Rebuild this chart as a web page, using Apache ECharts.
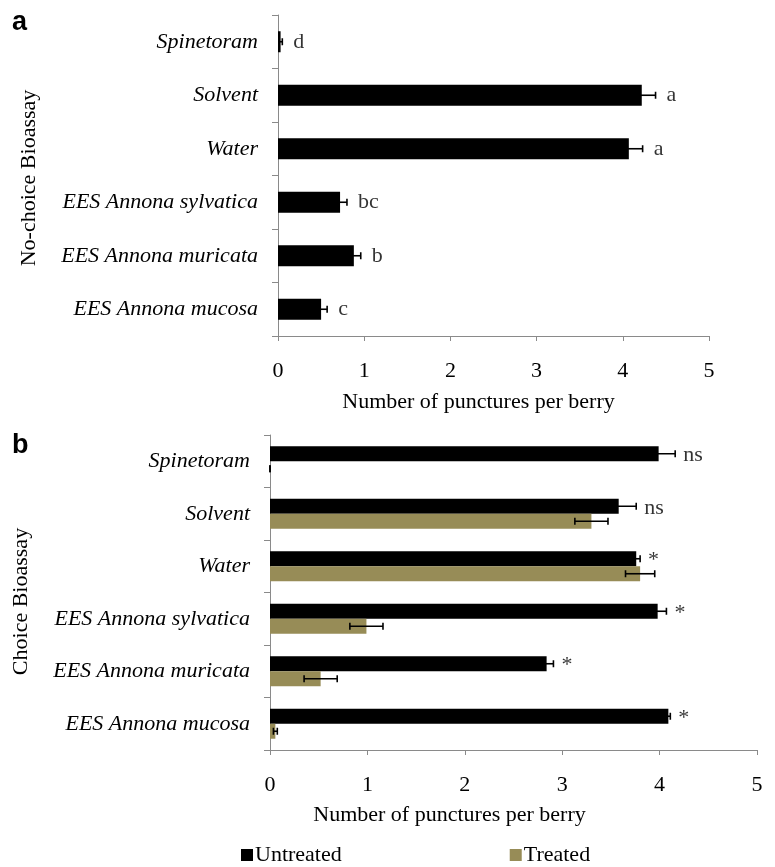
<!DOCTYPE html>
<html>
<head>
<meta charset="utf-8">
<script src="https://cdn.jsdelivr.net/npm/echarts@6/dist/echarts.min.js"></script>
<style>html,body{margin:0;padding:0;background:#fff}#c{width:775px;height:867px}</style>
</head>
<body>
<div id="c"></div>
<script>
// ---- data ----
var categories = ['Spinetoram', 'Solvent', 'Water', 'EES Annona sylvatica', 'EES Annona muricata', 'EES Annona mucosa'];
var xTicks = [0, 1, 2, 3, 4, 5];

// Panel a: No-choice bioassay
var noChoiceMean = [0.03, 4.22, 4.07, 0.72, 0.88, 0.50];
var noChoiceErr  = [0.02, 0.16, 0.16, 0.08, 0.08, 0.07];
var noChoiceLetters = ['d', 'a', 'a', 'bc', 'b', 'c'];

// Panel b: Choice bioassay
var untreatedMean = [3.99, 3.58, 3.76, 3.98, 2.84, 4.09];
var untreatedErr  = [0.17, 0.18, 0.04, 0.09, 0.07, 0.02];
var treatedMean   = [0.00, 3.30, 3.80, 0.99, 0.52, 0.055];
var treatedErr    = [0.00, 0.17, 0.15, 0.17, 0.17, 0.02];
var choiceSig     = ['ns', 'ns', '*', '*', '*', '*'];

var seriesNames = ['Untreated', 'Treated'];
var xTitle = 'Number of punctures per berry';
var yTitleA = 'No-choice Bioassay';
var yTitleB = 'Choice Bioassay';

// ---- chart ----
var SERIF = '"Liberation Serif", "Times New Roman", serif';
var BLACK = '#000000', TAN = '#978c57', AXIS = '#8a8a8a';

function errData(mean, err) {
  return mean.map(function (m, i) { return [m - err[i], m + err[i], i]; });
}
function tipData(mean, err) {
  return mean.map(function (m, i) { return [m + err[i], i]; });
}
function errRender(offset) {
  return function (params, api) {
    var lo = api.coord([api.value(0), api.value(2)]);
    var hi = api.coord([api.value(1), api.value(2)]);
    var y = lo[1] + offset;
    var h = 3.5;
    var st = { stroke: '#000', lineWidth: 1.6 };
    return { type: 'group', children: [
      { type: 'line', shape: { x1: lo[0], y1: y, x2: hi[0], y2: y }, style: st },
      { type: 'line', shape: { x1: lo[0], y1: y - h, x2: lo[0], y2: y + h }, style: st },
      { type: 'line', shape: { x1: hi[0], y1: y - h, x2: hi[0], y2: y + h }, style: st }
    ]};
  };
}
function xAxisCfg(gi, nameGap, padRight) {
  return {
    type: 'value', gridIndex: gi, min: xTicks[0], max: xTicks[xTicks.length - 1], interval: 1,
    splitLine: { show: false },
    axisLine: { show: true, lineStyle: { color: AXIS, width: 1 } },
    axisTick: { show: true, length: 5, lineStyle: { color: AXIS } },
    axisLabel: { color: '#000', fontFamily: SERIF, fontSize: 22, margin: 24 },
    name: xTitle, nameLocation: 'middle', nameGap: nameGap,
    nameTextStyle: { color: '#000', fontFamily: SERIF, fontSize: 22, padding: [0, padRight, 0, 0] }
  };
}
function yAxisCfg(gi, name, padRight) {
  return {
    type: 'category', gridIndex: gi, data: categories, inverse: true,
    axisLine: { show: true, lineStyle: { color: AXIS, width: 1 } },
    axisTick: { show: true, length: 6, lineStyle: { color: AXIS } },
    axisLabel: { color: '#000', fontFamily: SERIF, fontSize: 22, fontStyle: 'italic', margin: 20 },
    name: name, nameLocation: 'middle', nameGap: 238, nameRotate: 90,
    nameTextStyle: { color: '#000', fontFamily: SERIF, fontSize: 22, padding: [0, padRight, 0, 0] }
  };
}
function sigSeries(xi, mean, err, labels, dist, dy) {
  return {
    type: 'scatter', xAxisIndex: xi, yAxisIndex: xi, symbolSize: 0, silent: true,
    data: tipData(mean, err),
    label: { show: true, position: 'right', distance: dist, offset: [0, dy], color: '#000',
      fontFamily: SERIF, fontSize: 22,
      formatter: function (p) { return labels[p.dataIndex]; } },
    z: 5
  };
}

var chart = echarts.init(document.getElementById('c'), null, { renderer: 'canvas' });
chart.setOption({
  animation: false,
  backgroundColor: '#fff',
  textStyle: { fontFamily: SERIF },
  grid: [
    { left: 278, top: 15, right: 66, height: 321 },
    { left: 270, top: 435, right: 18, height: 315 }
  ],
  xAxis: [xAxisCfg(0, 55, 30), xAxisCfg(1, 54, 128)],
  yAxis: [yAxisCfg(0, yTitleA, 5), yAxisCfg(1, yTitleB, 18)],
  legend: {
    data: seriesNames, left: 236, top: 839, itemWidth: 12, itemHeight: 12, itemGap: 168,
    icon: 'rect', textStyle: { color: '#000', fontFamily: SERIF, fontSize: 22, padding: [2, 0, 0, -3] }
  },
  graphic: [
    { type: 'text', left: 12, top: 9, style: { text: 'a', font: 'bold 27px "Liberation Sans", Arial, sans-serif', fill: '#000' } },
    { type: 'text', left: 12, top: 432, style: { text: 'b', font: 'bold 27px "Liberation Sans", Arial, sans-serif', fill: '#000' } }
  ],
  series: [
    { type: 'bar', name: 'No-choice', xAxisIndex: 0, yAxisIndex: 0, data: noChoiceMean,
      barWidth: 21, itemStyle: { color: BLACK } },
    { type: 'custom', xAxisIndex: 0, yAxisIndex: 0, renderItem: errRender(0),
      encode: { x: [0, 1], y: 2 }, data: errData(noChoiceMean, noChoiceErr), z: 4 },
    sigSeries(0, noChoiceMean, noChoiceErr, noChoiceLetters, 11, 0),

    { type: 'bar', name: seriesNames[0], xAxisIndex: 1, yAxisIndex: 1, data: untreatedMean,
      barWidth: 15, barGap: '0%', itemStyle: { color: BLACK } },
    { type: 'bar', name: seriesNames[1], xAxisIndex: 1, yAxisIndex: 1, data: treatedMean,
      barWidth: 15, barGap: '0%', itemStyle: { color: TAN } },
    { type: 'custom', xAxisIndex: 1, yAxisIndex: 1, renderItem: errRender(-7.5),
      encode: { x: [0, 1], y: 2 }, data: errData(untreatedMean, untreatedErr), z: 4 },
    { type: 'custom', xAxisIndex: 1, yAxisIndex: 1, renderItem: errRender(7.5),
      encode: { x: [0, 1], y: 2 }, data: errData(treatedMean, treatedErr), z: 4 },
    sigSeries(1, untreatedMean, untreatedErr, choiceSig, 8, -6)
  ]
});
</script>
</body>
</html>
